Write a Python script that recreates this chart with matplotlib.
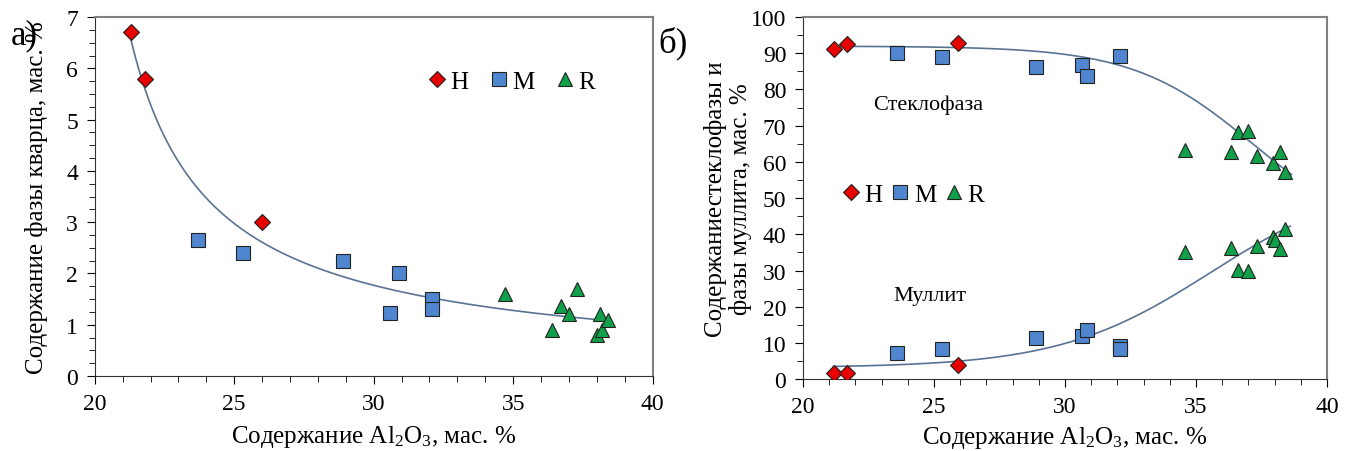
import numpy as np
import matplotlib
matplotlib.use("Agg")
import matplotlib.pyplot as plt
from matplotlib.ticker import MultipleLocator

plt.rcParams['font.family'] = ['Liberation Serif', 'DejaVu Serif']
plt.rcParams['mathtext.fontset'] = 'custom'
plt.rcParams['mathtext.rm'] = 'Liberation Serif'
plt.rcParams['mathtext.default'] = 'regular'

# --- panel a): quartz phase ---
quartz_H_x = [21.3, 21.8, 26.0]
quartz_H_y = [6.7, 5.8, 3.0]
quartz_M_x = [23.7, 25.3, 28.9, 30.6, 30.9, 32.1, 32.1]
quartz_M_y = [2.65, 2.4, 2.25, 1.22, 2.0, 1.5, 1.3]
quartz_R_x = [34.7, 36.4, 36.7, 37.0, 37.3, 38.0, 38.1, 38.2, 38.4]
quartz_R_y = [1.6, 0.9, 1.37, 1.2, 1.7, 0.8, 1.2, 0.9, 1.1]
# trend line
quartz_trend_x = [21.23, 21.73, 22.21, 22.81, 23.41, 24.61, 25.81, 27.0, 28.8, 30.59, 32.2, 35.3, 38.2]
quartz_trend_y = [6.70, 5.76, 4.88, 4.23, 3.78, 3.12, 2.73, 2.44, 2.05, 1.73, 1.55, 1.25, 1.0]

# --- panel б): glass phase and mullite ---
glass_H_x = [21.2, 21.7, 25.9]
glass_H_y = [91.3, 92.6, 92.8]
glass_M_x = [23.6, 25.3, 28.9, 30.65, 30.85, 32.1]
glass_M_y = [90.1, 88.9, 86.3, 86.7, 83.8, 89.2]
glass_R_x = [34.6, 36.35, 36.6, 37.0, 37.35, 37.95, 38.2, 38.4]
glass_R_y = [63.3, 62.8, 68.2, 68.5, 61.5, 59.6, 62.8, 57.3]
glass_trend_x = [21.2, 23.0, 25.0, 27.14, 29.05, 30.95, 32.23, 33.5, 34.77, 36.04, 36.81, 37.95, 38.46, 38.65]
glass_trend_y = [91.3, 91.5, 91.7, 91.6, 91.0, 88.6, 86.6, 82.9, 77.8, 71.4, 67.2, 61.2, 57.5, 55.8]

mull_H_x = [21.2, 21.7, 25.9]
mull_H_y = [1.6, 1.6, 3.9]
mull_M_x = [23.6, 25.3, 28.9, 30.65, 30.85, 32.1, 32.1]
mull_M_y = [7.3, 8.4, 11.3, 11.9, 13.5, 9.2, 8.4]
mull_R_x = [34.6, 36.35, 36.6, 37.0, 37.35, 37.95, 38.0, 38.2, 38.4]
mull_R_y = [35.1, 36.1, 30.1, 29.8, 36.9, 39.3, 38.5, 36.0, 41.5]
mull_trend_x = [21.16, 23.5, 25.99, 27.14, 29.05, 30.95, 32.23, 33.5, 34.77, 36.04, 37.32, 38.46, 38.6]
mull_trend_y = [2.95, 4.0, 5.3, 6.0, 8.3, 12.0, 15.7, 20.3, 25.8, 31.8, 37.8, 41.6, 41.9]

line_col = '#5a7394'
red = '#e60000'
blue = '#4f86cf'
green = '#11a04a'


def fit_power(x, y):
    # smooth trend y = a*(x-c)^b, c chosen by least squares
    x = np.array(x); y = np.array(y)
    best = None
    for c in np.linspace(5, x.min() - 0.2, 300):
        p = np.polyfit(np.log(x - c), np.log(y), 1)
        r = np.sum((np.exp(np.polyval(p, np.log(x - c))) - y) ** 2)
        if best is None or r < best[0]:
            best = (r, c, p)
    _, c, p = best
    xx = np.linspace(x.min(), x.max(), 300)
    return xx, np.exp(np.polyval(p, np.log(xx - c)))


def fit_logistic(x, y):
    # smooth trend y = A + B / (1 + exp(-(x - x0)/s))
    x = np.array(x); y = np.array(y)
    best = None
    for x0 in np.linspace(30, 48, 91):
        for s in np.linspace(0.8, 8, 73):
            g = 1.0 / (1.0 + np.exp(-(x - x0) / s))
            M = np.column_stack([np.ones_like(x), g])
            coef, *_ = np.linalg.lstsq(M, y, rcond=None)
            r = np.sum((M @ coef - y) ** 2)
            if best is None or r < best[0]:
                best = (r, x0, s, coef)
    _, x0, s, coef = best
    xx = np.linspace(x.min(), x.max(), 300)
    return xx, coef[0] + coef[1] / (1.0 + np.exp(-(xx - x0) / s))


fig = plt.figure(figsize=(13.54, 4.52), dpi=100)
ax1 = fig.add_axes([0.070, 0.166, 0.412, 0.794])
ax2 = fig.add_axes([0.593, 0.159, 0.387, 0.801])

mk = dict(linestyle='none', markeredgecolor='#222222', markeredgewidth=0.8)
leg_kw = dict(ncol=3, frameon=False, fontsize=18, handlelength=0.8, handletextpad=0.15,
              borderpad=0, borderaxespad=0)

# panel a
cx, cy = fit_power(quartz_trend_x, quartz_trend_y)
ax1.plot(cx, cy, color=line_col, lw=1.2, zorder=2)
ax1.plot(quartz_H_x, quartz_H_y, marker='D', color=red, markersize=8, label='H', zorder=3, **mk)
ax1.plot(quartz_M_x, quartz_M_y, marker='s', color=blue, markersize=10.5, label='M', zorder=3, **mk)
ax1.plot(quartz_R_x, quartz_R_y, marker='^', color=green, markersize=10.5, label='R', zorder=3, **mk)
ax1.set_xlim(20, 40)
ax1.set_ylim(0, 7)
ax1.xaxis.set_major_locator(MultipleLocator(5))
ax1.xaxis.set_minor_locator(MultipleLocator(1))
ax1.yaxis.set_major_locator(MultipleLocator(1))
ax1.yaxis.set_minor_locator(MultipleLocator(0.25))
ax1.set_xlabel('Содержание Al$_2$O$_3$, мас. %', fontsize=18, labelpad=7)
ax1.set_ylabel('Содержание фазы кварца, мас. %', fontsize=18, labelpad=13)
ax1.legend(loc='center left', bbox_to_anchor=(0.595, 0.82), columnspacing=0.8, **leg_kw)
ax1.text(-0.15, 0.95, 'а)', transform=ax1.transAxes, fontsize=25, ha='left', va='center')

# panel б
gcx, gcy = fit_logistic(glass_trend_x, glass_trend_y)
mcx, mcy = fit_logistic(mull_trend_x, mull_trend_y)
ax2.plot(gcx, gcy, color=line_col, lw=1.2, zorder=2)
ax2.plot(mcx, mcy, color=line_col, lw=1.2, zorder=2)
for xs, ys in [(glass_H_x, glass_H_y), (mull_H_x, mull_H_y)]:
    ax2.plot(xs, ys, marker='D', color=red, markersize=8, zorder=3, **mk)
for xs, ys in [(glass_M_x, glass_M_y), (mull_M_x, mull_M_y)]:
    ax2.plot(xs, ys, marker='s', color=blue, markersize=10.5, zorder=3, **mk)
for xs, ys in [(glass_R_x, glass_R_y), (mull_R_x, mull_R_y)]:
    ax2.plot(xs, ys, marker='^', color=green, markersize=10.5, zorder=3, **mk)
hH, = ax2.plot([], [], marker='D', color=red, markersize=8, **mk)
hM, = ax2.plot([], [], marker='s', color=blue, markersize=10.5, **mk)
hR, = ax2.plot([], [], marker='^', color=green, markersize=10.5, **mk)
ax2.legend([hH, hM, hR], ['H', 'M', 'R'], loc='center left', bbox_to_anchor=(0.072, 0.51),
           columnspacing=0.3, **leg_kw)
ax2.set_xlim(20, 40)
ax2.set_ylim(0, 100)
ax2.xaxis.set_major_locator(MultipleLocator(5))
ax2.xaxis.set_minor_locator(MultipleLocator(1))
ax2.yaxis.set_major_locator(MultipleLocator(10))
ax2.yaxis.set_minor_locator(MultipleLocator(5))
ax2.set_xlabel('Содержание Al$_2$O$_3$, мас. %', fontsize=18, labelpad=5)
ax2.set_ylabel('Содержаниестеклофазы и\nфазы муллита, мас. %', fontsize=18, labelpad=-1,
               linespacing=1.15)
ax2.text(24.77, 76, 'Стеклофаза', fontsize=16, ha='center', va='center')
ax2.text(24.85, 23, 'Муллит', fontsize=16, ha='center', va='center')
ax2.text(-0.275, 0.93, 'б)', transform=ax2.transAxes, fontsize=25, ha='left', va='center')

for ax in (ax1, ax2):
    ax.tick_params(which='both', direction='out', labelsize=17, pad=6)
    ax.tick_params(which='major', length=6)
    ax.tick_params(which='minor', length=4)
    ax.spines['top'].set_color('#808080')
    ax.spines['right'].set_color('#808080')
    ax.spines['left'].set_color('#333333')
    ax.spines['bottom'].set_color('#333333')
    ax.spines['top'].set_linewidth(1.5)
    ax.spines['right'].set_linewidth(1.5)

fig.savefig('out.png', dpi=100)
